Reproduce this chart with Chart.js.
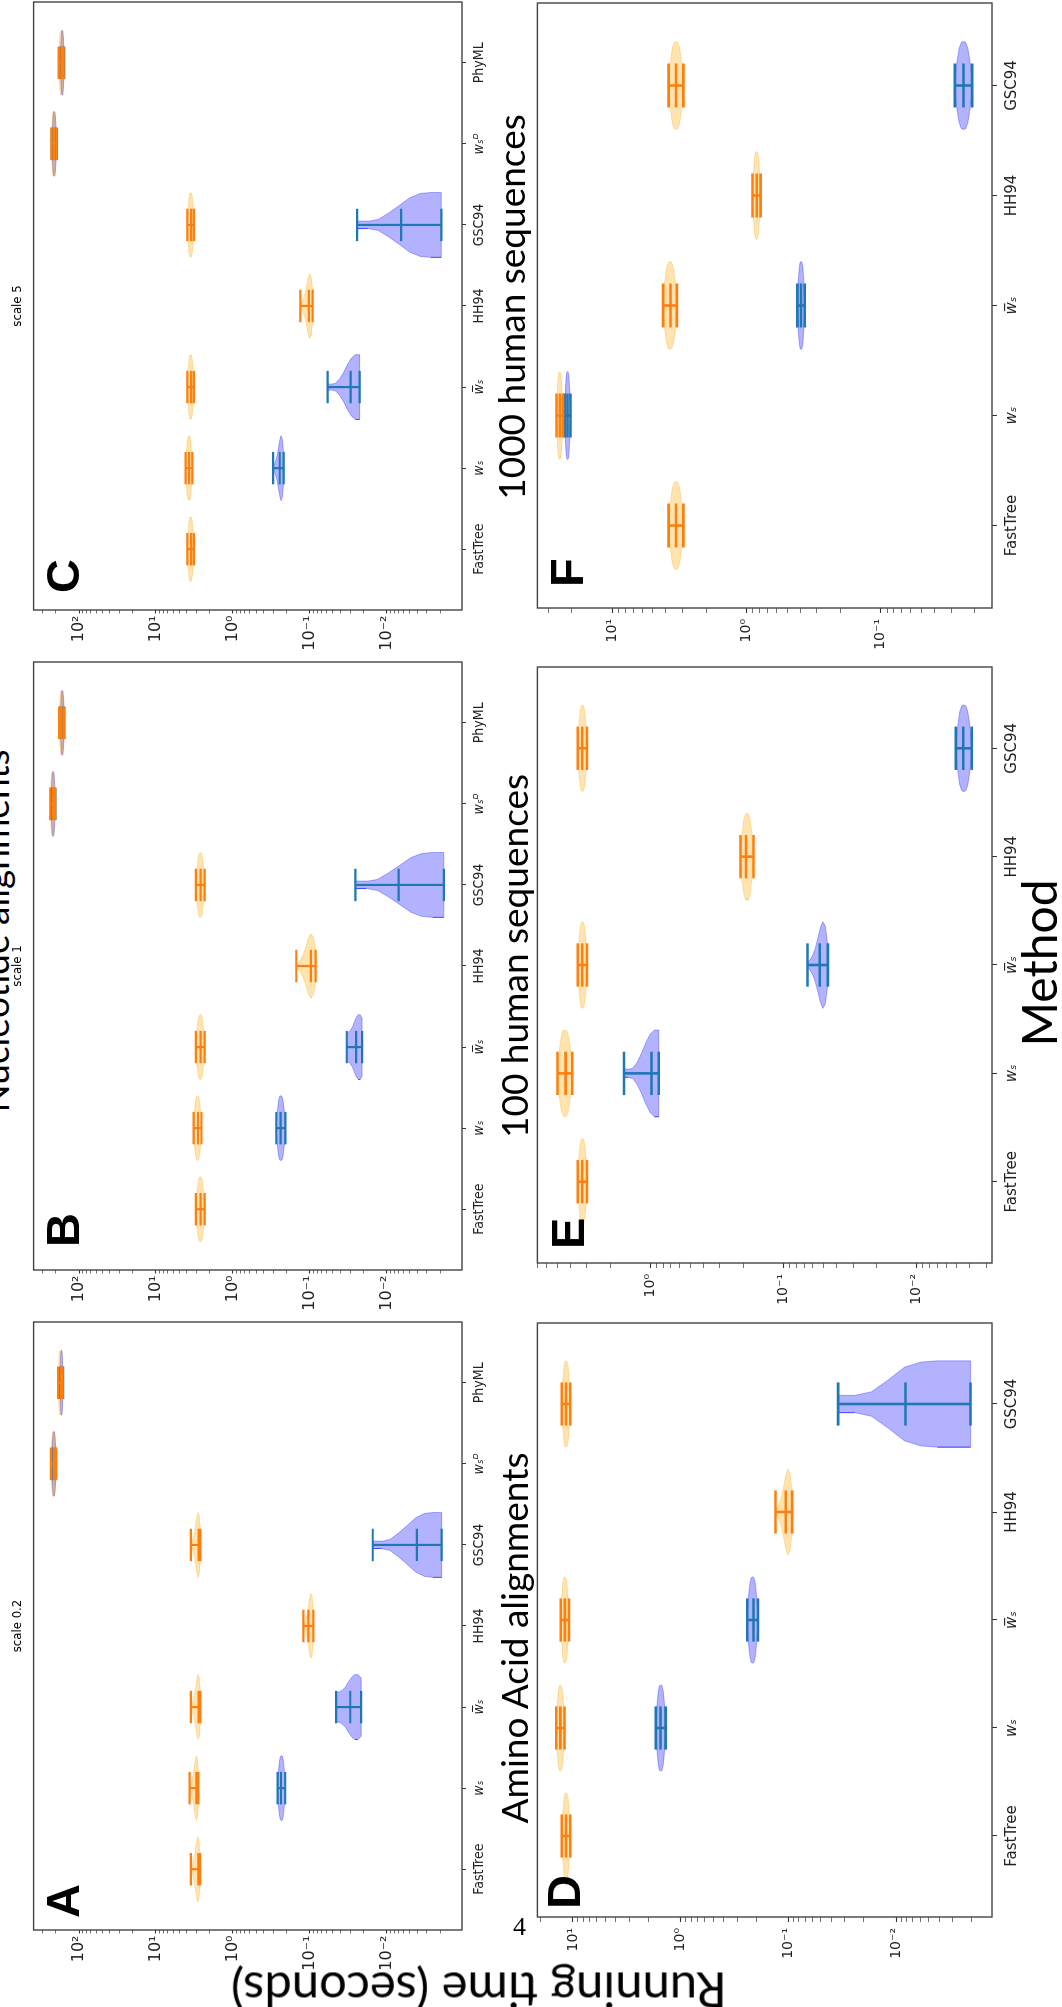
<!DOCTYPE html>
<html>
<head>
<meta charset="utf-8">
<script src="https://cdn.jsdelivr.net/npm/chart.js@4.4.1/dist/chart.umd.min.js"></script>
<style>
  html, body { margin: 0; padding: 0; background: #fff; }
  body { position: relative; width: 1062px; height: 2007px; overflow: hidden; }
  /* the figure is laid out landscape and turned a quarter turn */
  #fig { position: absolute; left: 0; top: 0; width: 2007px; height: 1062px;
         transform-origin: 0 0; transform: translateY(2007px) rotate(-90deg); }
  #fig canvas { position: absolute; }
  .txt { position: absolute; white-space: nowrap; color: #000; }
</style>
</head>
<body>
<div id="fig"></div>
<script>
// ================= METHODS / AXES =================
const methods = ["FastTree", "w\u209B", "w\u0305\u209B", "HH94", "GSC94", "w\u209B\u1D30", "PhyML"];
const aminoMethods = methods.slice(0, 5);
const italicIdx = [1, 2, 5];

const nucRange = [0.00105, 390];
const nucTicks = [0.01, 0.1, 1, 10, 100];
const nucTickText = ["10⁻²", "10⁻¹", "10⁰", "10¹", "10²"];

const aaRange = [0.00129, 21.4];
const aaTicks = [0.01, 0.1, 1, 10];
const aaTickText = ["10⁻²", "10⁻¹", "10⁰", "10¹"];

const h100Range = [0.00271, 7.06];
const h100Ticks = [0.01, 0.1, 1];
const h100TickText = ["10⁻²", "10⁻¹", "10⁰"];

const h1000Range = [0.01486, 36.2];
const h1000Ticks = [0.1, 1, 10];
const h1000TickText = ["10⁻¹", "10⁰", "10¹"];

// ================= VIOLIN OUTLINES =================
// half-width along the body, from min to max (fraction of the widest point)
const lens   = [0.12, 0.55, 0.85, 0.98, 1, 0.98, 0.85, 0.55, 0.12];
const skew   = [0.45, 0.9, 1, 0.85, 0.6, 0.38, 0.22, 0.12, 0.06];
const bulb   = [0.9, 1, 1, 0.92, 0.78, 0.62, 0.52, 0.47, 0.45];
const flare  = [1, 1, 0.97, 0.84, 0.6, 0.37, 0.17, 0.11, 0.12];
const neck   = [1, 1, 0.9, 0.7, 0.45, 0.25, 0.12, 0.09, 0.1];
const flareD = [1, 1, 1, 0.97, 0.85, 0.55, 0.28, 0.2, 0.2];

// ================= RUNNING TIMES (s): [min, median, max] =================
// nucleotide, scale 0.2
const aOrange = [[2.67, 2.82, 3.52], [2.80, 2.98, 3.65], [2.64, 2.80, 3.52], [0.090, 0.1045, 0.121], [2.64, 2.80, 3.52], [200, 212, 232], [164, 173, 187]];
const aBlue = [null, [0.2085, 0.237, 0.262], [0.0215, 0.0298, 0.0456], null, [0.00193, 0.00405, 0.0152], [198, 210, 228], [161, 168, 178]];
const aOrangeShape = [skew, skew, skew, skew, skew, lens, lens];
const aBlueShape = [null, lens, bulb, null, flare, lens, lens];

// nucleotide, scale 1
const bOrange = [[2.33, 2.62, 3.02], [2.56, 2.84, 3.24], [2.33, 2.62, 3.02], [0.084, 0.0968, 0.150], [2.33, 2.62, 3.02], [205, 218, 236], [158, 170, 182]];
const bBlue = [null, [0.208, 0.240, 0.273], [0.0209, 0.025, 0.0331], null, [0.00181, 0.0070, 0.0256], [203, 215, 233], [155, 165, 176]];
const bOrangeShape = [lens, lens, lens, skew, lens, lens, lens];
const bBlueShape = [null, lens, bulb, null, flare, lens, lens];

// nucleotide, scale 5
const cOrange = [[3.21, 3.5, 3.91], [3.37, 3.7, 4.11], [3.21, 3.5, 3.91], [0.0917, 0.103, 0.133], [3.21, 3.5, 3.91], [198, 212, 229], [159, 170, 184]];
const cBlue = [null, [0.219, 0.246, 0.300], [0.0225, 0.0294, 0.0587], null, [0.00195, 0.00649, 0.0242], [196, 208, 226], [156, 165, 175]];
const cOrangeShape = [lens, lens, lens, skew, lens, lens, lens];
const cBlueShape = [null, skew, neck, null, flare, lens, lens];

// amino acid
const dOrange = [[10.6, 11.6, 12.7], [12.0, 13.1, 14.3], [10.9, 11.9, 13.0], [0.0925, 0.106, 0.132], [10.6, 11.6, 12.7]];
const dBlue = [null, [1.38, 1.54, 1.70], [0.192, 0.211, 0.2415], null, [0.00204, 0.0082, 0.0346]];
const dOrangeShape = [lens, lens, lens, skew, lens];
const dBlueShape = [null, lens, lens, null, flareD];

// 100 human sequences
const eOrange = [[2.99, 3.25, 3.51], [3.86, 4.33, 4.98], [2.99, 3.25, 3.51], [0.168, 0.191, 0.210], [2.99, 3.25, 3.51]];
const eBlue = [null, [0.865, 0.98, 1.58], [0.0464, 0.0534, 0.0659], null, [0.00385, 0.00446, 0.00506]];
const eOrangeShape = [lens, lens, lens, lens, lens];
const eBlueShape = [null, neck, skew, null, lens];

// 1000 human sequences
const fOrange = [[2.96, 3.36, 3.81], [23.4, 24.7, 26.1], [3.31, 3.69, 4.19], [0.787, 0.84, 0.904], [2.96, 3.36, 3.81]];
const fBlue = [null, [20.5, 21.6, 22.7], [0.369, 0.393, 0.419], null, [0.0209, 0.0242, 0.0281]];
const fOrangeShape = [lens, lens, lens, lens, lens];
const fBlueShape = [null, lens, lens, null, lens];

// ================= LAYOUT =================
const leftStyle = {
  padL: 60, padR: 10, padT: 10, padB: 40, lw: 2.2,
  xTick: 4, xPad: 5, yTick: 3.5, yPad: 2,
  catFamily: "'DejaVu Sans Condensed', 'Liberation Sans Narrow', 'DejaVu Sans'", catSize: 14, ySize: 16
};
const rightStyle = {
  padL: 60, padR: 10, padT: 10, padB: 40, lw: 2.6,
  xTick: 5, xPad: 6, yTick: 5, yPad: 6,
  catFamily: "'DejaVu Sans'", catSize: 15, ySize: 14
};

// plot boxes in figure coordinates: [left, top, right, bottom]
const panels = [
  { cats: methods, orange: aOrange, blue: aBlue, oShape: aOrangeShape, bShape: aBlueShape, range: nucRange, ticks: nucTicks, tickText: nucTickText, box: [77, 32, 685, 462], st: leftStyle },
  { cats: methods, orange: bOrange, blue: bBlue, oShape: bOrangeShape, bShape: bBlueShape, range: nucRange, ticks: nucTicks, tickText: nucTickText, box: [737, 32, 1345, 462], st: leftStyle },
  { cats: methods, orange: cOrange, blue: cBlue, oShape: cOrangeShape, bShape: cBlueShape, range: nucRange, ticks: nucTicks, tickText: nucTickText, box: [1397, 32, 2005, 462], st: leftStyle },
  { cats: aminoMethods, orange: dOrange, blue: dBlue, oShape: dOrangeShape, bShape: dBlueShape, range: aaRange, ticks: aaTicks, tickText: aaTickText, box: [90, 533, 684, 992], st: rightStyle },
  { cats: aminoMethods, orange: eOrange, blue: eBlue, oShape: eOrangeShape, bShape: eBlueShape, range: h100Range, ticks: h100Ticks, tickText: h100TickText, box: [744, 533, 1340, 992], st: rightStyle },
  { cats: aminoMethods, orange: fOrange, blue: fBlue, oShape: fOrangeShape, bShape: fBlueShape, range: h1000Range, ticks: h1000Ticks, tickText: h1000TickText, box: [1399, 533, 2004, 992], st: rightStyle }
];

const HALF_BODY = 0.4;  // widest violin half-width, in category units
const HALF_CAP = 0.2;   // min / median / max cap half-length

// ================= HELPERS =================
function bodyPoints(times, shapes) {
  const pts = [];
  times.forEach((t, i) => {
    if (!t) return;
    const pos = i + 1;
    const prof = shapes[i];
    const lo = Math.log10(t[0]);
    const hi = Math.log10(t[2]);
    const n = prof.length;
    const at = k => Math.pow(10, lo + (hi - lo) * k / (n - 1));
    for (let k = 0; k < n; k++) pts.push({ x: pos + HALF_BODY * prof[k], y: at(k) });
    for (let k = n - 1; k >= 0; k--) pts.push({ x: pos - HALF_BODY * prof[k], y: at(k) });
    pts.push({ x: pos + HALF_BODY * prof[0], y: at(0) });
    pts.push({ x: pos, y: null });
  });
  return pts;
}

function barPoints(times) {
  const pts = [];
  times.forEach((t, i) => {
    if (!t) return;
    const pos = i + 1;
    pts.push({ x: pos, y: t[0] }, { x: pos, y: t[2] }, { x: pos, y: null });
    t.forEach(v => pts.push({ x: pos - HALF_CAP, y: v }, { x: pos + HALF_CAP, y: v }, { x: pos, y: null }));
  });
  return pts;
}

function logTicks(range) {
  const out = [];
  const lo = Math.floor(Math.log10(range[0]));
  const hi = Math.ceil(Math.log10(range[1]));
  for (let e = lo; e <= hi; e++) {
    for (let m = 1; m <= 9; m++) {
      const v = m * Math.pow(10, e);
      if (v >= range[0] && v <= range[1]) out.push({ value: v, major: m === 1 });
    }
  }
  return out;
}

const framePlugin = {
  id: 'frame',
  afterDatasetsDraw(chart) {
    const { ctx, chartArea: a } = chart;
    ctx.save();
    ctx.strokeStyle = '#444';
    ctx.lineWidth = 1.4;
    ctx.strokeRect(a.left, a.top, a.right - a.left, a.bottom - a.top);
    ctx.restore();
  }
};

const fig = document.getElementById('fig');

// ================= PANELS =================
function drawPanel(p) {
  const st = p.st;
  const [x0, y0, x1, y1] = p.box;
  const w = x1 - x0 + st.padL + st.padR;
  const h = y1 - y0 + st.padT + st.padB;
  const canvas = document.createElement('canvas');
  canvas.width = w;
  canvas.height = h;
  canvas.style.left = (x0 - st.padL) + 'px';
  canvas.style.top = (y0 - st.padT) + 'px';
  canvas.style.width = w + 'px';
  canvas.style.height = h + 'px';
  fig.appendChild(canvas);

  const common = { showLine: true, pointRadius: 0, spanGaps: false, tension: 0 };
  const datasets = [
    { data: barPoints(p.orange), borderColor: '#ff7f0e', borderWidth: st.lw, fill: false, order: 0 },
    { data: barPoints(p.blue), borderColor: '#1f77b4', borderWidth: st.lw, fill: false, order: 1 },
    { data: bodyPoints(p.orange, p.oShape), borderColor: 'rgba(255,165,0,0.3)', backgroundColor: 'rgba(255,165,0,0.3)', borderWidth: 1, fill: 'shape', order: 2 },
    { data: bodyPoints(p.blue, p.bShape), borderColor: 'rgba(0,0,255,0.3)', backgroundColor: 'rgba(0,0,255,0.3)', borderWidth: 1, fill: 'shape', order: 3 }
  ].map(d => Object.assign({}, common, d));

  new Chart(canvas, {
    type: 'scatter',
    data: { datasets },
    options: {
      responsive: false,
      animation: false,
      events: [],
      layout: { autoPadding: false, padding: { left: 0, top: st.padT, right: st.padR, bottom: 0 } },
      plugins: { legend: { display: false }, tooltip: { enabled: false } },
      scales: {
        x: {
          type: 'linear',
          min: 0.25,
          max: p.cats.length + 0.75,
          afterBuildTicks: ax => { ax.ticks = p.cats.map((c, i) => ({ value: i + 1 })); },
          afterFit: ax => { ax.height = st.padB; },
          border: { display: false },
          grid: { drawOnChartArea: false, tickLength: st.xTick, tickColor: '#333', tickWidth: 1 },
          ticks: {
            autoSkip: false, maxRotation: 0, minRotation: 0, padding: st.xPad, color: '#222',
            font: ctx => ({ family: st.catFamily, size: st.catSize, style: italicIdx.includes(ctx.index) ? 'italic' : 'normal' }),
            callback: v => p.cats[Math.round(v) - 1]
          }
        },
        y: {
          type: 'logarithmic',
          min: p.range[0],
          max: p.range[1],
          afterBuildTicks: ax => { ax.ticks = logTicks(p.range); },
          afterFit: ax => { ax.width = st.padL; },
          border: { display: false },
          grid: {
            drawOnChartArea: false, tickLength: st.yTick, tickColor: '#333',
            tickWidth: ctx => (ctx.tick && ctx.tick.major ? 1.1 : 0.7)
          },
          ticks: {
            autoSkip: false, padding: st.yPad, color: '#222',
            font: { family: 'DejaVu Sans', size: st.ySize },
            callback: v => {
              const k = p.ticks.findIndex(t => Math.abs(t / v - 1) < 1e-6);
              return k >= 0 ? p.tickText[k] : '';
            }
          }
        }
      }
    },
    plugins: [framePlugin]
  });
}

panels.forEach(drawPanel);

// ================= TEXT =================
// x, y: anchor and baseline in figure coordinates
function addText(parent, t) {
  const el = document.createElement('div');
  el.className = 'txt';
  el.textContent = t.text;
  el.style.fontFamily = t.family;
  el.style.fontSize = t.size + 'px';
  el.style.fontWeight = t.weight || 'normal';
  if (t.stretch) el.style.fontStretch = t.stretch;
  el.style.lineHeight = '1';
  el.style.left = t.x + 'px';
  el.style.top = (t.y - t.asc * t.size) + 'px';
  if (t.center) el.style.transform = 'translateX(-50%)';
  parent.appendChild(el);
  return el;
}

const big = { family: 'Lato', asc: 0.887, center: true };
const sub = { family: "'DejaVu Sans'", size: 13, asc: 0.846, center: true, stretch: 'condensed' };
const tag = { family: "'Liberation Sans'", size: 47, weight: 'bold', asc: 0.8465 };

[
  Object.assign({ text: 'Nucleotide alignments', x: 1076, y: 9, size: 37 }, big),
  Object.assign({ text: 'Amino Acid alignments', x: 369, y: 528, size: 37 }, big),
  Object.assign({ text: '100 human sequences', x: 1051, y: 528, size: 37 }, big),
  Object.assign({ text: '1000 human sequences', x: 1700, y: 525, size: 37 }, big),
  Object.assign({ text: 'Method', x: 1044, y: 1058, size: 48 }, big),
  Object.assign({ text: 'scale 0.2', x: 381, y: 21 }, sub),
  Object.assign({ text: 'scale 1', x: 1041, y: 21 }, sub),
  Object.assign({ text: 'scale 5', x: 1701, y: 21 }, sub),
  Object.assign({ text: 'A', x: 89, y: 79 }, tag),
  Object.assign({ text: 'B', x: 760, y: 79 }, tag),
  Object.assign({ text: 'C', x: 1414, y: 79 }, tag),
  Object.assign({ text: 'D', x: 98, y: 580 }, tag),
  Object.assign({ text: 'E', x: 758, y: 584 }, tag),
  Object.assign({ text: 'F', x: 1420, y: 583 }, tag)
].forEach(t => addText(fig, t));

// y axis label, reading bottom to top
const yLabel = document.createElement('div');
yLabel.className = 'txt';
yLabel.textContent = 'Running time (seconds)';
yLabel.style.fontFamily = 'Lato';
yLabel.style.fontSize = '49px';
yLabel.style.lineHeight = '1';
yLabel.style.left = '35px';
yLabel.style.top = '479px';
yLabel.style.transformOrigin = '0 0';
yLabel.style.transform = 'rotate(-90deg) translate(-50%, -0.887em)';
fig.appendChild(yLabel);

// page number printed upright on the page
addText(document.body, { text: '4', x: 513, y: 1936, size: 26, family: "'Liberation Serif'", asc: 0.8375 });
</script>
</body>
</html>
